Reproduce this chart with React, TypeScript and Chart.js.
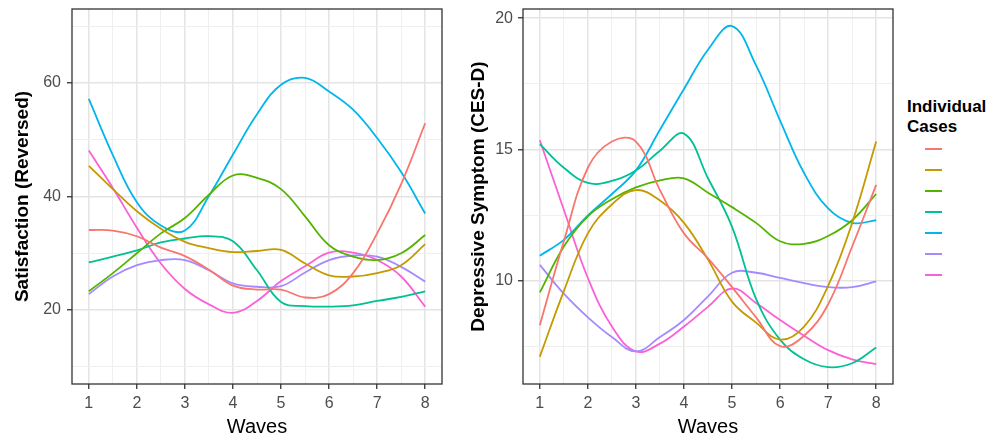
import React, { useEffect, useRef } from "react";
import { Chart, registerables } from "chart.js";

Chart.register(...registerables);

// ---- data ----
const waves = [1, 1.5, 2, 2.5, 3, 3.5, 4, 4.5, 5, 5.5, 6, 6.5, 7, 7.5, 8];
const caseColors = ["#F8766D", "#C49A00", "#53B400", "#00C094", "#00B6EB", "#A58AFF", "#FB61D7"];

// Satisfaction (Reversed)
const satCase1 = [34.1, 34.0, 33.0, 31.0, 29.5, 27.1, 24.3, 23.6, 23.6, 22.2, 22.8, 26.5, 33.5, 42.2, 52.9];
const satCase2 = [45.4, 41.3, 37.4, 34.3, 32.0, 30.9, 30.2, 30.4, 30.6, 28.2, 26.1, 25.9, 26.5, 27.9, 31.6];
const satCase3 = [23.3, 26.5, 30.0, 33.5, 36.2, 40.3, 43.7, 43.3, 41.3, 36.5, 31.4, 29.4, 28.8, 30.0, 33.2];
const satCase4 = [28.4, 29.4, 30.5, 31.9, 32.6, 33.0, 32.1, 27.0, 21.4, 20.7, 20.6, 20.8, 21.6, 22.3, 23.3];
const satCase5 = [57.2, 47.3, 39.0, 34.9, 34.0, 40.1, 47.4, 54.5, 59.7, 60.9, 58.5, 55.3, 50.3, 44.3, 37.0];
const satCase6 = [22.8, 25.9, 27.9, 28.8, 28.8, 27.0, 24.7, 24.1, 24.2, 26.6, 28.8, 29.6, 29.4, 27.6, 25.0];
const satCase7 = [48.1, 41.5, 34.5, 28.2, 23.7, 21.0, 19.5, 21.6, 25.1, 27.7, 30.1, 30.1, 28.8, 25.9, 20.6];

// Depressive Symptom (CES-D)
const cesdCase1 = [8.3, 11.5, 14.3, 15.3, 15.3, 13.45, 11.8, 10.85, 9.75, 8.6, 7.5, 7.9, 9.1, 11.3, 13.65];
const cesdCase2 = [7.1, 9.6, 11.8, 12.9, 13.45, 13.05, 12.2, 10.8, 9.2, 8.4, 7.75, 8.25, 9.8, 12.2, 15.3];
const cesdCase3 = [9.55, 11.3, 12.45, 13.1, 13.55, 13.82, 13.9, 13.35, 12.8, 12.2, 11.5, 11.4, 11.7, 12.3, 13.3];
const cesdCase4 = [15.2, 14.3, 13.72, 13.8, 14.2, 14.95, 15.6, 13.9, 12.05, 9.3, 7.75, 7.0, 6.7, 6.85, 7.45];
const cesdCase5 = [10.95, 11.55, 12.48, 13.3, 14.2, 15.75, 17.3, 18.8, 19.7, 18.2, 16.1, 14.1, 12.75, 12.2, 12.3];
const cesdCase6 = [10.6, 9.5, 8.6, 7.85, 7.3, 7.85, 8.5, 9.4, 10.3, 10.3, 10.1, 9.9, 9.75, 9.75, 9.97];
const cesdCase7 = [15.35, 12.7, 10.1, 8.25, 7.3, 7.6, 8.25, 9.0, 9.7, 9.15, 8.5, 7.9, 7.35, 7.0, 6.82];

const satSeries = [satCase1, satCase2, satCase3, satCase4, satCase5, satCase6, satCase7];
const cesdSeries = [cesdCase1, cesdCase2, cesdCase3, cesdCase4, cesdCase5, cesdCase6, cesdCase7];

const waveTicks = [1, 1.5, 2, 2.5, 3, 3.5, 4, 4.5, 5, 5.5, 6, 6.5, 7, 7.5, 8];
const satTicks = [10, 20, 30, 40, 50, 60, 70];
const cesdTicks = [7.5, 10, 12.5, 15, 17.5, 20];

const legendTitle = ["Individual", "Cases"];
const xTitle = "Waves";
const satTitle = "Satisfaction (Reversed)";
const cesdTitle = "Depressive Symptom (CES-D)";

const FONT = "'Liberation Sans', Arial, Helvetica, sans-serif";

const panelBorder = {
  id: "panelBorder",
  afterDraw(chart: any) {
    const { ctx, chartArea } = chart;
    ctx.save();
    ctx.strokeStyle = "#333333";
    ctx.lineWidth = 1.3;
    ctx.strokeRect(chartArea.left, chartArea.top, chartArea.right - chartArea.left, chartArea.bottom - chartArea.top);
    ctx.restore();
  },
};

interface PanelCfg {
  series: number[][];
  yTicks: number[];
  yMin: number;
  yMax: number;
  yMajor: (v: number) => boolean;
  yTitle: string;
  yAxisWidth: number;
  yTitlePad: number;
  yTickPad: number;
  padRight: number;
}

function makeChart(canvas: HTMLCanvasElement, cfg: PanelCfg) {
  const gridColor = (major: boolean) => (major ? "#E4E4E4" : "#EFEFEF");
  const xMajor = (v: number) => Math.abs(v - Math.round(v)) < 1e-6;
  return new Chart(canvas, {
    type: "line",
    data: {
      datasets: cfg.series.map((vals, i) => ({
        label: "",
        data: waves.map((x, j) => ({ x, y: vals[j] })),
        borderColor: caseColors[i],
        backgroundColor: caseColors[i],
        borderWidth: 1.8,
        pointRadius: 0,
        tension: 0.4,
        fill: false,
      })),
    },
    options: {
      animation: false,
      responsive: false,
      layout: { padding: { top: 9, right: cfg.padRight, left: 0, bottom: 0 } },
      plugins: { legend: { display: false }, tooltip: { enabled: false } },
      scales: {
        x: {
          type: "linear",
          min: 0.65,
          max: 8.35,
          afterBuildTicks: (s: any) => {
            s.ticks = waveTicks.map((v) => ({ value: v }));
          },
          afterFit: (s: any) => {
            s.height = 55;
            s.paddingLeft = 0;
            s.paddingRight = 0;
          },
          ticks: {
            autoSkip: false,
            maxRotation: 0,
            padding: 5,
            color: "#4D4D4D",
            font: { family: FONT, size: 16 },
            callback: (v: any) => (xMajor(Number(v)) ? String(v) : ""),
          },
          grid: {
            color: (c: any) => gridColor(c.tick ? xMajor(c.tick.value) : true),
            lineWidth: (c: any) => (c.tick && xMajor(c.tick.value) ? 1.5 : 1),
            tickColor: (c: any) => (c.tick && xMajor(c.tick.value) ? "#333333" : "rgba(0,0,0,0)"),
            tickLength: 5,
            tickWidth: 1.3,
          },
          border: { display: false },
          title: {
            display: true,
            text: xTitle,
            color: "#000000",
            font: { family: FONT, size: 20 },
            padding: { top: 3, bottom: 0 },
          },
        },
        y: {
          type: "linear",
          min: cfg.yMin,
          max: cfg.yMax,
          afterBuildTicks: (s: any) => {
            s.ticks = cfg.yTicks.map((v) => ({ value: v }));
          },
          afterFit: (s: any) => {
            s.width = cfg.yAxisWidth;
            s.paddingTop = 0;
            s.paddingBottom = 0;
          },
          ticks: {
            autoSkip: false,
            padding: cfg.yTickPad,
            color: "#4D4D4D",
            font: { family: FONT, size: 16 },
            callback: (v: any) => (cfg.yMajor(Number(v)) ? String(v) : ""),
          },
          grid: {
            color: (c: any) => gridColor(c.tick ? cfg.yMajor(c.tick.value) : true),
            lineWidth: (c: any) => (c.tick && cfg.yMajor(c.tick.value) ? 1.5 : 1),
            tickColor: (c: any) => (c.tick && cfg.yMajor(c.tick.value) ? "#333333" : "rgba(0,0,0,0)"),
            tickLength: 5,
            tickWidth: 1.3,
          },
          border: { display: false },
          title: {
            display: true,
            text: cfg.yTitle,
            color: "#000000",
            font: { family: FONT, size: 19, weight: "bold" },
            padding: { top: cfg.yTitlePad, bottom: 0 },
          },
        },
      },
    },
    plugins: [panelBorder],
  } as any);
}

export default function App() {
  const leftRef = useRef<HTMLCanvasElement>(null);
  const rightRef = useRef<HTMLCanvasElement>(null);

  useEffect(() => {
    const left = makeChart(leftRef.current!, {
      series: satSeries,
      yTicks: satTicks,
      yMin: 6.96,
      yMax: 73.04,
      yMajor: (v) => Math.abs(v % 20) < 1e-6,
      yTitle: satTitle,
      yAxisWidth: 72,
      yTitlePad: 11,
      yTickPad: 6,
      padRight: 18,
    });
    const right = makeChart(rightRef.current!, {
      series: cesdSeries,
      yTicks: cesdTicks,
      yMin: 6.06,
      yMax: 20.35,
      yMajor: (v) => Math.abs(v % 5) < 1e-6,
      yTitle: cesdTitle,
      yAxisWidth: 63,
      yTitlePad: 7,
      yTickPad: 5,
      padRight: 7,
    });
    return () => {
      left.destroy();
      right.destroy();
    };
  }, []);

  return (
    <div style={{ position: "fixed", left: 0, top: 0, width: 1003, height: 439, background: "#ffffff", overflow: "hidden" }}>
      <canvas ref={leftRef} width={460} height={439} style={{ position: "absolute", left: 0, top: 0, width: 460, height: 439 }} />
      <canvas ref={rightRef} width={440} height={439} style={{ position: "absolute", left: 460, top: 0, width: 440, height: 439 }} />
      <div
        style={{
          position: "absolute",
          left: 907,
          top: 97,
          fontFamily: FONT,
          fontWeight: "bold",
          fontSize: 17,
          lineHeight: "20px",
          color: "#000000",
        }}
      >
        {legendTitle.map((t) => (
          <div key={t}>{t}</div>
        ))}
      </div>
      {caseColors.map((c, i) => (
        <div
          key={c}
          style={{ position: "absolute", left: 925, top: 148 + i * 21, width: 17, height: 2, background: c }}
        />
      ))}
    </div>
  );
}
